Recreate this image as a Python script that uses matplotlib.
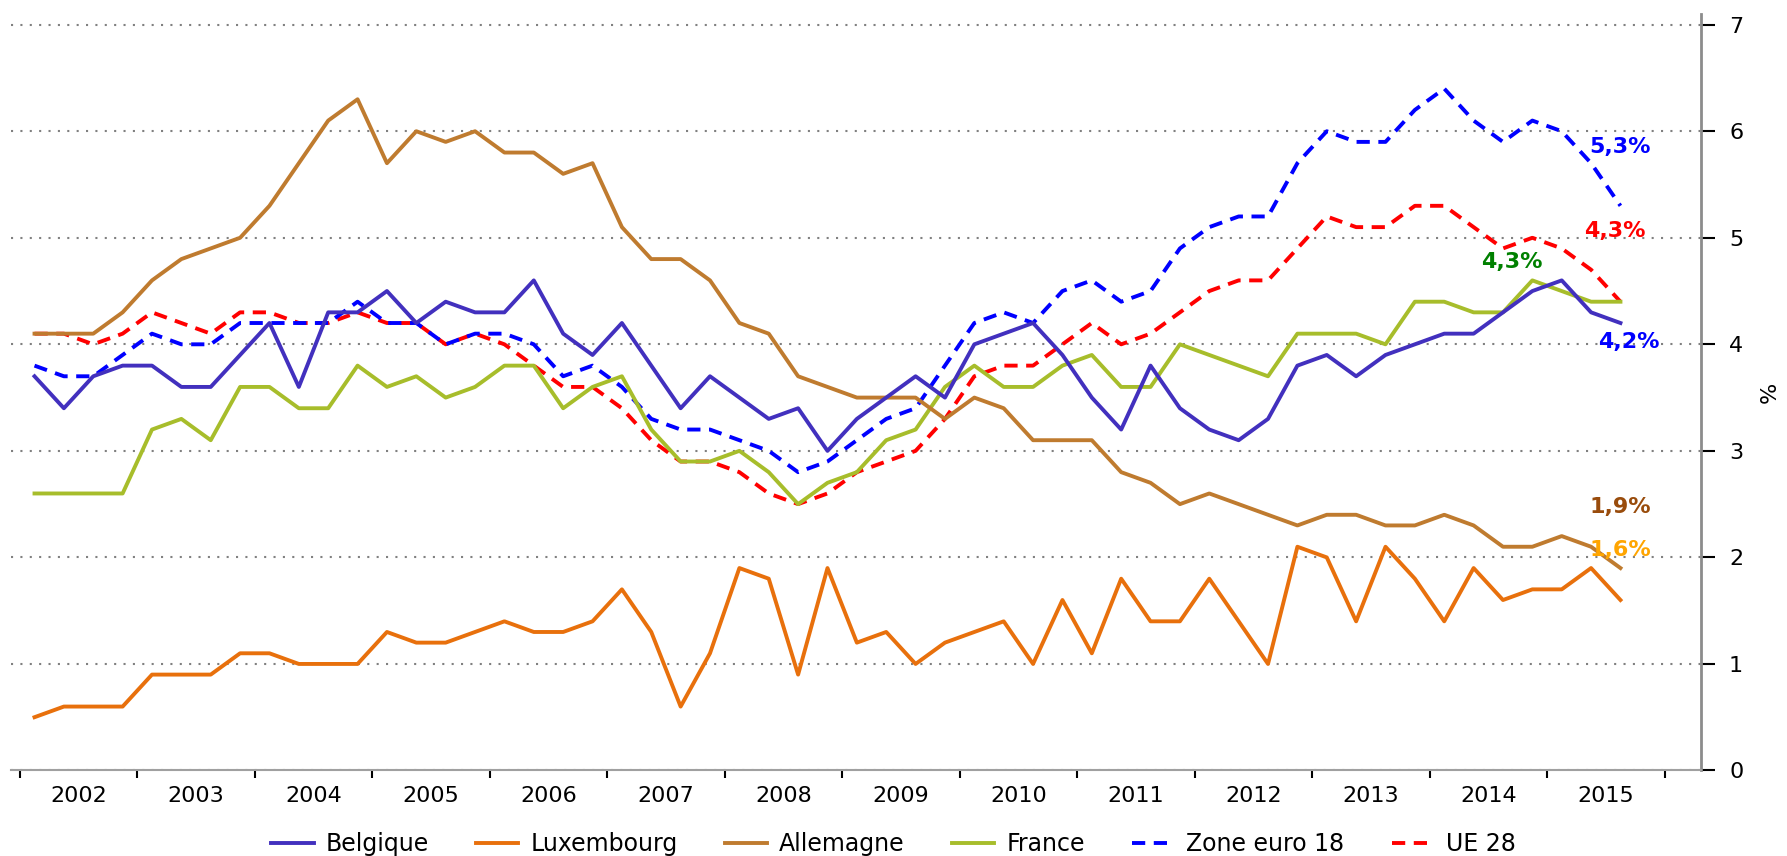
import numpy as np
import matplotlib
matplotlib.use("Agg")
import matplotlib.pyplot as plt

years = [str(y) for y in range(2002, 2016)]

# quarterly values, 2002 Q1 -> 2015 Q3 (%)
belgique = [3.7, 3.4, 3.7, 3.8, 3.8, 3.6, 3.6, 3.9, 4.2, 3.6,
            4.3, 4.3, 4.5, 4.2, 4.4, 4.3, 4.3, 4.6, 4.1, 3.9,
            4.2, 3.8, 3.4, 3.7, 3.5, 3.3, 3.4, 3.0, 3.3, 3.5,
            3.7, 3.5, 4.0, 4.1, 4.2, 3.9, 3.5, 3.2, 3.8, 3.4,
            3.2, 3.1, 3.3, 3.8, 3.9, 3.7, 3.9, 4.0, 4.1, 4.1,
            4.3, 4.5, 4.6, 4.3, 4.2]
luxembourg = [0.5, 0.6, 0.6, 0.6, 0.9, 0.9, 0.9, 1.1, 1.1, 1.0,
              1.0, 1.0, 1.3, 1.2, 1.2, 1.3, 1.4, 1.3, 1.3, 1.4,
              1.7, 1.3, 0.6, 1.1, 1.9, 1.8, 0.9, 1.9, 1.2, 1.3,
              1.0, 1.2, 1.3, 1.4, 1.0, 1.6, 1.1, 1.8, 1.4, 1.4,
              1.8, 1.4, 1.0, 2.1, 2.0, 1.4, 2.1, 1.8, 1.4, 1.9,
              1.6, 1.7, 1.7, 1.9, 1.6]
allemagne = [4.1, 4.1, 4.1, 4.3, 4.6, 4.8, 4.9, 5.0, 5.3, 5.7,
             6.1, 6.3, 5.7, 6.0, 5.9, 6.0, 5.8, 5.8, 5.6, 5.7,
             5.1, 4.8, 4.8, 4.6, 4.2, 4.1, 3.7, 3.6, 3.5, 3.5,
             3.5, 3.3, 3.5, 3.4, 3.1, 3.1, 3.1, 2.8, 2.7, 2.5,
             2.6, 2.5, 2.4, 2.3, 2.4, 2.4, 2.3, 2.3, 2.4, 2.3,
             2.1, 2.1, 2.2, 2.1, 1.9]
france = [2.6, 2.6, 2.6, 2.6, 3.2, 3.3, 3.1, 3.6, 3.6, 3.4,
          3.4, 3.8, 3.6, 3.7, 3.5, 3.6, 3.8, 3.8, 3.4, 3.6,
          3.7, 3.2, 2.9, 2.9, 3.0, 2.8, 2.5, 2.7, 2.8, 3.1,
          3.2, 3.6, 3.8, 3.6, 3.6, 3.8, 3.9, 3.6, 3.6, 4.0,
          3.9, 3.8, 3.7, 4.1, 4.1, 4.1, 4.0, 4.4, 4.4, 4.3,
          4.3, 4.6, 4.5, 4.4, 4.4]
zone_euro = [3.8, 3.7, 3.7, 3.9, 4.1, 4.0, 4.0, 4.2, 4.2, 4.2,
             4.2, 4.4, 4.2, 4.2, 4.0, 4.1, 4.1, 4.0, 3.7, 3.8,
             3.6, 3.3, 3.2, 3.2, 3.1, 3.0, 2.8, 2.9, 3.1, 3.3,
             3.4, 3.8, 4.2, 4.3, 4.2, 4.5, 4.6, 4.4, 4.5, 4.9,
             5.1, 5.2, 5.2, 5.7, 6.0, 5.9, 5.9, 6.2, 6.4, 6.1,
             5.9, 6.1, 6.0, 5.7, 5.3]
ue28 = [4.1, 4.1, 4.0, 4.1, 4.3, 4.2, 4.1, 4.3, 4.3, 4.2,
        4.2, 4.3, 4.2, 4.2, 4.0, 4.1, 4.0, 3.8, 3.6, 3.6,
        3.4, 3.1, 2.9, 2.9, 2.8, 2.6, 2.5, 2.6, 2.8, 2.9,
        3.0, 3.3, 3.7, 3.8, 3.8, 4.0, 4.2, 4.0, 4.1, 4.3,
        4.5, 4.6, 4.6, 4.9, 5.2, 5.1, 5.1, 5.3, 5.3, 5.1,
        4.9, 5.0, 4.9, 4.7, 4.4]

# last-value labels: text, colour, (x, y) in data units
end_labels = [("5,3%", "#0000FF", 54.0, 5.85),
              ("4,3%", "#FF0000", 53.8, 5.06),
              ("4,3%", "#008000", 50.3, 4.77),
              ("4,2%", "#0000FF", 54.3, 4.02),
              ("1,9%", "#994C0C", 54.0, 2.47),
              ("1,6%", "#FFA500", 54.0, 2.07)]

plt.rcParams['font.family'] = ['DejaVu Sans']

fig = plt.figure(figsize=(17.87, 8.56), dpi=100)
ax = fig.add_axes([0.006, 0.0999, 0.946, 0.8837])

x = np.arange(len(belgique))
lw = 2.8
dash = (3.4, 2.2)
ax.plot(x, ue28, color="#FF0000", lw=lw, dashes=dash, label="UE 28", zorder=3)
ax.plot(x, zone_euro, color="#0000FF", lw=lw, dashes=dash, label="Zone euro 18", zorder=3)
ax.plot(x, france, color="#A7BD2B", lw=lw, label="France", zorder=4)
ax.plot(x, allemagne, color="#BF7B2F", lw=lw, label="Allemagne", zorder=4)
ax.plot(x, luxembourg, color="#E8700C", lw=lw, label="Luxembourg", zorder=4)
ax.plot(x, belgique, color="#4230BE", lw=lw, label="Belgique", zorder=5)

for txt, col, tx, ty in end_labels:
    ax.text(tx, ty, txt, color=col, fontsize=16, fontweight="bold",
            ha="center", va="center", zorder=6)

ax.set_xlim(-0.81, 56.75)
ax.set_ylim(0, 7.1)

# year boundaries as major ticks, labels centred on the years
ax.set_xticks([-0.5 + 4 * i for i in range(len(years) + 1)])
ax.set_xticklabels([])
ax.set_xticks([1.5 + 4 * i for i in range(len(years))], minor=True)
ax.set_xticklabels(years, minor=True, fontsize=16)
ax.tick_params(axis="x", which="major", direction="out", length=6, width=1.5, color="black")
ax.tick_params(axis="x", which="minor", length=0, pad=11)

ax.yaxis.tick_right()
ax.yaxis.set_label_position("right")
ax.set_yticks(range(8))
ax.tick_params(axis="y", direction="out", length=10, width=1.5, color="black",
               labelsize=16, pad=10)
ax.set_ylabel("%", fontsize=16, labelpad=12)

ax.grid(axis="y", color="#808080", linestyle=(0, (1, 3.5)), linewidth=1.5)
ax.set_axisbelow(True)

for s in ["left", "top"]:
    ax.spines[s].set_visible(False)
ax.spines["right"].set_color("#8C8C8C")
ax.spines["right"].set_linewidth(2)
ax.spines["bottom"].set_color("#A0A0A0")
ax.spines["bottom"].set_linewidth(1.5)

handles, labels = ax.get_legend_handles_labels()
order = ["Belgique", "Luxembourg", "Allemagne", "France", "Zone euro 18", "UE 28"]
h = [handles[labels.index(n)] for n in order]
fig.legend(h, order, loc="center", bbox_to_anchor=(0.5, 0.014), ncol=6,
           frameon=False, fontsize=17, handlelength=1.8, handletextpad=0.5,
           columnspacing=2.0)

fig.savefig("out.png", dpi=100)
